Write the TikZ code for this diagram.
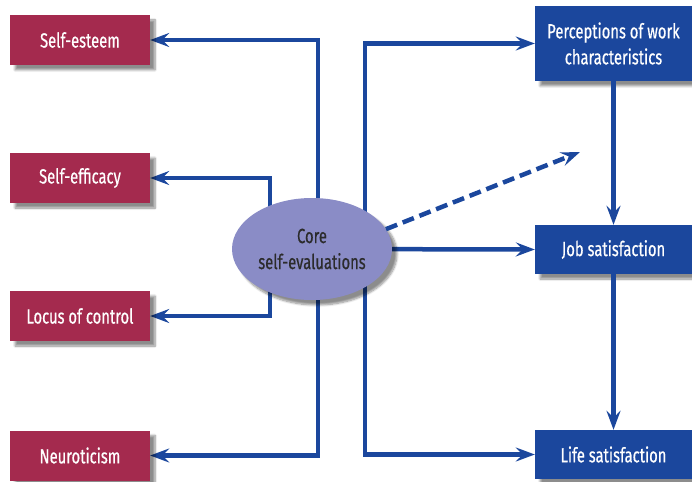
\documentclass[tikz,border=0pt]{standalone}
\usepackage{fontspec}
\setmainfont{Fira Sans}[FakeStretch=0.72, FakeBold=0.5]
\usetikzlibrary{arrows.meta,shapes.geometric,shadows.blur,backgrounds}
\definecolor{trait}{HTML}{A42A4E}
\definecolor{outcome}{HTML}{1B479D}
\definecolor{coreblob}{HTML}{8A8CC6}
\definecolor{coretext}{HTML}{2B2B2B}
\begin{document}
\begin{tikzpicture}[
    x=1pt, y=-1pt,
    font=\fontsize{20.5}{26}\selectfont,
    shade/.style={blur shadow={shadow xshift=5pt, shadow yshift=-5pt, shadow blur steps=8, shadow opacity=45}},
    lbox/.style={rectangle, fill=trait, text=white, minimum width=140pt, minimum height=50pt, shade},
    rbox/.style={rectangle, fill=outcome, text=white, minimum width=157pt, minimum height=49pt, align=center, shade},
    conn/.style={draw=outcome, line width=4.5pt, -{Stealth[length=19pt,width=14pt,inset=7pt]}}
]
\useasboundingbox (0,0) rectangle (692,481);
% four traits on the left
\node[lbox] (esteem) at (80,40) {Self-esteem};
\node[lbox] (efficacy) at (80,178) {Self-efficacy};
\node[lbox] (locus) at (80,316) {Locus of control};
\node[lbox] (neuro) at (80,455.5) {Neuroticism};
% outcomes on the right
\node[rbox, minimum height=75pt] (percep) at (613.5,43.5) {Perceptions of work\\characteristics};
\node[rbox] (job) at (613.5,249.5) {Job satisfaction};
\node[rbox] (life) at (613.5,454.5) {Life satisfaction};
% the central factor
\node[ellipse, fill=coreblob, text=coretext, minimum width=160pt, minimum height=102pt,
      inner sep=0pt, align=center, shade] (core) at (312,249) {Core\\self-evaluations};
\coordinate (dashend) at (580,152);
\begin{pgfonlayer}{background}
\draw[conn] ([xshift=6pt]core.center) |- (esteem.east);
\draw[conn] ([xshift=-42pt]core.center) |- (efficacy.east);
\draw[conn] ([xshift=-42pt]core.center) |- (locus.east);
\draw[conn] ([xshift=6pt]core.center) |- (neuro.east);
\draw[conn] ([xshift=53pt]core.center) |- (percep.west);
\draw[conn] ([xshift=53pt]core.center) |- (life.west);
\draw[conn] (core.center) -- (job.west);
\end{pgfonlayer}
\draw[conn, dash pattern=on 12pt off 6pt] (core.15) -- (dashend);
\draw[conn] (percep) -- (job);
\draw[conn] (job) -- (life);
\end{tikzpicture}
\end{document}
